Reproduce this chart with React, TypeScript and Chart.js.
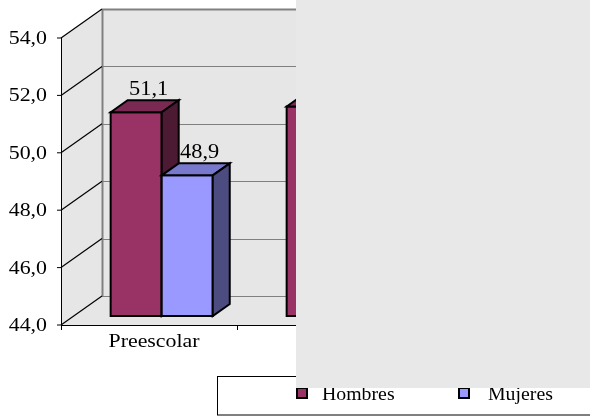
import React, { useEffect, useRef } from "react";
import { Chart, registerables } from "chart.js";

Chart.register(...registerables);

// ---- data ----
const categories = ["Preescolar", "Primaria"];
const seriesNames = ["Hombres", "Mujeres"];
const hombres = [51.1, 51.3];
const mujeres: (number | null)[] = [48.9, null];
const yTicks = [44, 46, 48, 50, 52, 54];

// ---- styles ----
const W = 590;
const H = 416;
const FRONT = ["#993366", "#9999FF"];
const TOP = ["#7A2952", "#7878CC"];
const SIDE = ["#4D1A33", "#4C4C80"];
const WALL = "#E6E6E6";
const OVERLAY = "#E8E8E8";
const WALL_DX = 41;
const WALL_DY = 29;
const BAR_OFF_DX = 12.7;
const BAR_OFF_DY = 9;
const BAR_DX = 17;
const BAR_DY = 12;
const SX = 1.15;
const FAMILY = '"Liberation Serif", Tinos, "Times New Roman", serif';
const FONT = "19px " + FAMILY;
const LEGEND_FONT = "18px " + FAMILY;
const OVERLAY_RECT = { x: 296, y: 0, w: 294, h: 388 };
const LABEL_CLIP_X = 286;

const fmt = (v: number) => v.toFixed(1).replace(".", ",");

function sText(ctx: CanvasRenderingContext2D, text: string, x: number, y: number, align: CanvasTextAlign, base: CanvasTextBaseline, font = FONT, sx = SX) {
  ctx.save();
  ctx.font = font;
  ctx.fillStyle = "#000";
  ctx.textAlign = align;
  ctx.textBaseline = base;
  ctx.translate(x, y);
  ctx.scale(sx, 1);
  ctx.fillText(text, 0, 0);
  ctx.restore();
}

function line(ctx: CanvasRenderingContext2D, x1: number, y1: number, x2: number, y2: number, color: string, w = 1) {
  ctx.save();
  ctx.strokeStyle = color;
  ctx.lineWidth = w;
  ctx.beginPath();
  ctx.moveTo(x1, y1);
  ctx.lineTo(x2, y2);
  ctx.stroke();
  ctx.restore();
}

function poly(ctx: CanvasRenderingContext2D, pts: number[][], fill: string, stroke?: string, w = 2) {
  ctx.beginPath();
  ctx.moveTo(pts[0][0], pts[0][1]);
  for (let i = 1; i < pts.length; i++) ctx.lineTo(pts[i][0], pts[i][1]);
  ctx.closePath();
  ctx.fillStyle = fill;
  ctx.fill();
  if (stroke) {
    ctx.strokeStyle = stroke;
    ctx.lineWidth = w;
    ctx.lineJoin = "miter";
    ctx.stroke();
  }
}

const threeD = {
  id: "threeD",
  beforeDatasetsDraw(chart: any) {
    const ctx: CanvasRenderingContext2D = chart.ctx;
    const { left, right, top, bottom } = chart.chartArea;
    const ys = chart.scales.y;
    const xs = chart.scales.x;
    // walls and floor
    poly(ctx, [[left, top], [left + WALL_DX, top - WALL_DY], [left + WALL_DX, bottom - WALL_DY], [left, bottom]], WALL);
    ctx.fillStyle = WALL;
    ctx.fillRect(left + WALL_DX, top - WALL_DY, right - left, bottom - top);
    poly(ctx, [[left, bottom], [left + WALL_DX, bottom - WALL_DY], [right + WALL_DX, bottom - WALL_DY], [right, bottom]], WALL);
    // back grid
    yTicks.forEach((v) => {
      const y = Math.round(ys.getPixelForValue(v) - WALL_DY) + 0.5;
      const isTop = v === yTicks[yTicks.length - 1];
      line(ctx, left + WALL_DX, y, right + WALL_DX, y, "#808080", isTop ? 2 : 1);
    });
    line(ctx, left + WALL_DX + 0.5, top - WALL_DY, left + WALL_DX + 0.5, bottom - WALL_DY, "#808080", 2);
    // side diagonals + y ticks
    yTicks.forEach((v) => {
      const y = ys.getPixelForValue(v);
      line(ctx, left, y, left + WALL_DX, y - WALL_DY, "#000", 1.2);
      line(ctx, left - 4, y, left, y, "#000", 1);
      sText(ctx, fmt(v), left - 14, y + 1, "right", "middle");
    });
    // axes
    line(ctx, left + 0.5, top, left + 0.5, bottom, "#000", 1);
    line(ctx, left, bottom + 0.5, right, bottom + 0.5, "#000", 1);
    for (let i = 0; i <= categories.length; i++) {
      const x = Math.round(left + (i * (right - left)) / categories.length) + 0.5;
      line(ctx, x, bottom, x, bottom + 5, "#000", 1);
    }
    // category labels (the covered part of the picture shows none of them)
    ctx.save();
    ctx.beginPath();
    ctx.rect(0, 0, LABEL_CLIP_X, H);
    ctx.clip();
    categories.forEach((c, i) => {
      sText(ctx, c, xs.getPixelForValue(i) + 5, bottom + 22, "center", "alphabetic");
    });
    ctx.restore();
  },
  afterDatasetsDraw(chart: any) {
    const ctx: CanvasRenderingContext2D = chart.ctx;
    const ys = chart.scales.y;
    const basePx = ys.getPixelForValue(ys.min);
    chart.data.datasets.forEach((ds: any, di: number) => {
      const meta = chart.getDatasetMeta(di);
      meta.data.forEach((el: any, i: number) => {
        const v = ds.data[i];
        if (v == null) return;
        const x0 = el.x - el.width / 2 + BAR_OFF_DX;
        const x1 = el.x + el.width / 2 + BAR_OFF_DX;
        const t = ys.getPixelForValue(v) - BAR_OFF_DY;
        const b = basePx - BAR_OFF_DY;
        poly(ctx, [[x0, t], [x1, t], [x1, b], [x0, b]], FRONT[di], "#000");
        poly(ctx, [[x0, t], [x0 + BAR_DX, t - BAR_DY], [x1 + BAR_DX, t - BAR_DY], [x1, t]], TOP[di], "#000");
        poly(ctx, [[x1, t], [x1 + BAR_DX, t - BAR_DY], [x1 + BAR_DX, b - BAR_DY], [x1, b]], SIDE[di], "#000");
      });
    });
    chart.data.datasets.forEach((ds: any, di: number) => {
      const meta = chart.getDatasetMeta(di);
      meta.data.forEach((el: any, i: number) => {
        const v = ds.data[i];
        if (v == null) return;
        const cx = el.x + BAR_OFF_DX + BAR_DX / 2 + 4;
        const t = ys.getPixelForValue(v) - BAR_OFF_DY - BAR_DY - 5;
        sText(ctx, fmt(v), cx, t, "center", "alphabetic", "20px " + FAMILY, 1.12);
      });
    });
  },
  afterDraw(chart: any) {
    const ctx: CanvasRenderingContext2D = chart.ctx;
    // legend box
    ctx.save();
    ctx.strokeStyle = "#000";
    ctx.lineWidth = 1;
    ctx.strokeRect(217.5, 376.5, 400, 38.5);
    ctx.restore();
    const items = [
      { sx: 297, tx: 322 },
      { sx: 459, tx: 488 },
    ];
    chart.data.datasets.forEach((ds: any, di: number) => {
      const it = items[di];
      ctx.save();
      ctx.fillStyle = FRONT[di];
      ctx.fillRect(it.sx, 388, 10, 10);
      ctx.strokeStyle = "#000";
      ctx.lineWidth = 2;
      ctx.strokeRect(it.sx, 388, 10, 10);
      ctx.restore();
      sText(ctx, ds.label, it.tx, 400, "left", "alphabetic", LEGEND_FONT, 1.1);
    });
    // overlay box covering right side
    ctx.save();
    ctx.fillStyle = OVERLAY;
    ctx.fillRect(OVERLAY_RECT.x, OVERLAY_RECT.y, OVERLAY_RECT.w, OVERLAY_RECT.h);
    ctx.restore();
  },
};

export default function App() {
  const ref = useRef<HTMLCanvasElement | null>(null);
  useEffect(() => {
    let chart: any = null;
    let cancelled = false;
    const make = () => {
      if (cancelled || !ref.current) return;
      chart = new Chart(ref.current, {
        type: "bar",
        data: {
          labels: categories,
          datasets: [
            { label: seriesNames[0], data: hombres, backgroundColor: "rgba(0,0,0,0)", borderWidth: 0, categoryPercentage: 0.58, barPercentage: 1 },
            { label: seriesNames[1], data: mujeres as any, backgroundColor: "rgba(0,0,0,0)", borderWidth: 0, categoryPercentage: 0.58, barPercentage: 1 },
          ],
        },
        options: {
          responsive: false,
          maintainAspectRatio: false,
          animation: false,
          devicePixelRatio: 1,
          layout: { padding: { left: 61, top: 38, right: 177, bottom: 91 } },
          scales: {
            x: { display: false, offset: true },
            y: { display: false, min: 44, max: 54 },
          },
          plugins: { legend: { display: false }, tooltip: { enabled: false } },
        },
        plugins: [threeD],
      } as any);
    };
    const fonts: any = (document as any).fonts;
    if (fonts && fonts.load) {
      Promise.all([fonts.load(FONT, "0123456789,PHM"), fonts.load(LEGEND_FONT, "Hombres")])
        .catch(() => null)
        .then(make);
    } else {
      make();
    }
    return () => {
      cancelled = true;
      if (chart) chart.destroy();
    };
  }, []);
  return (
    <div style={{ position: "fixed", left: 0, top: 0, width: W, height: H, background: "#fff" }}>
      <canvas ref={ref} width={W} height={H} style={{ width: W, height: H, display: "block" }} />
    </div>
  );
}
